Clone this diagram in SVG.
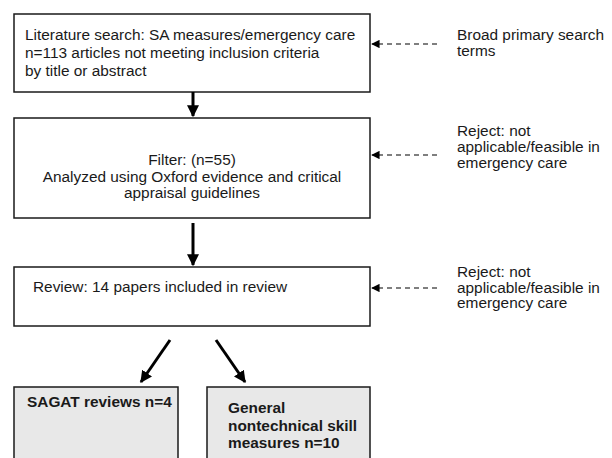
<svg xmlns="http://www.w3.org/2000/svg" width="612" height="458" viewBox="0 0 612 458">
<style>
text{font-family:"Liberation Sans",Arial,sans-serif;font-size:15.4px;fill:#1a1a1a}
.box{fill:#fff;stroke:#1a1a1a;stroke-width:1.5}
.gbox{fill:#e8e8e8;stroke:#1a1a1a;stroke-width:1.5}
.b{font-weight:bold}
.thick{stroke:#000;stroke-width:3;fill:none}
.dash{stroke:#000;stroke-width:1.2;stroke-dasharray:5,4;fill:none}
</style>
<defs>
<marker id="ah" viewBox="0 0 10 10" refX="9" refY="5" markerWidth="4" markerHeight="4" orient="auto" markerUnits="strokeWidth"><path d="M0,0 L10,5 L0,10 z" fill="#000"/></marker>
<marker id="ahs" viewBox="0 0 10 10" refX="9" refY="5" markerWidth="7" markerHeight="7" orient="auto" markerUnits="strokeWidth"><path d="M0,0 L10,5 L0,10 z" fill="#000"/></marker>
</defs>
<g id="n1"><rect class="box" x="14" y="14" width="356" height="78"/>
<text x="25" y="40">Literature search: SA measures/emergency care</text>
<text x="25" y="58">n=113 articles not meeting inclusion criteria</text>
<text x="25" y="76">by title or abstract</text></g>
<g id="n2"><rect class="box" x="14" y="118" width="356" height="100"/>
<text x="192" y="165" text-anchor="middle">Filter: (n=55)</text>
<text x="192" y="181.5" text-anchor="middle">Analyzed using Oxford evidence and critical</text>
<text x="192" y="198" text-anchor="middle">appraisal guidelines</text></g>
<g id="n3"><rect class="box" x="14" y="267" width="356" height="59"/>
<text x="33" y="292">Review: 14 papers included in review</text></g>
<g id="n4"><rect class="gbox" x="14" y="387" width="164" height="80"/>
<text class="b" x="27" y="407">SAGAT reviews n=4</text></g>
<g id="n5"><rect class="gbox" x="207" y="387" width="163" height="80"/>
<text class="b" x="228" y="413">General</text>
<text class="b" x="228" y="430.5">nontechnical skill</text>
<text class="b" x="228" y="448">measures n=10</text></g>
<g id="l1"><text x="457" y="40">Broad primary search</text><text x="457" y="56">terms</text></g>
<g id="l2"><text x="457" y="136">Reject: not</text><text x="457" y="152">applicable/feasible in</text><text x="457" y="168">emergency care</text></g>
<g id="l3"><text x="457" y="277">Reject: not</text><text x="457" y="292.5">applicable/feasible in</text><text x="457" y="308">emergency care</text></g>
<g id="connectors">
<line class="thick" x1="193" y1="92" x2="193" y2="116" marker-end="url(#ah)"/>
<line class="thick" x1="193" y1="223" x2="193" y2="265" marker-end="url(#ah)"/>
<line class="thick" x1="170" y1="340" x2="141" y2="382" marker-end="url(#ah)"/>
<line class="thick" x1="216" y1="340" x2="245" y2="382" marker-end="url(#ah)"/>
<line class="dash" x1="437" y1="44" x2="372" y2="44" marker-end="url(#ahs)"/>
<line class="dash" x1="437" y1="155" x2="372" y2="155" marker-end="url(#ahs)"/>
<line class="dash" x1="437" y1="288" x2="372" y2="288" marker-end="url(#ahs)"/>
</g>
</svg>
